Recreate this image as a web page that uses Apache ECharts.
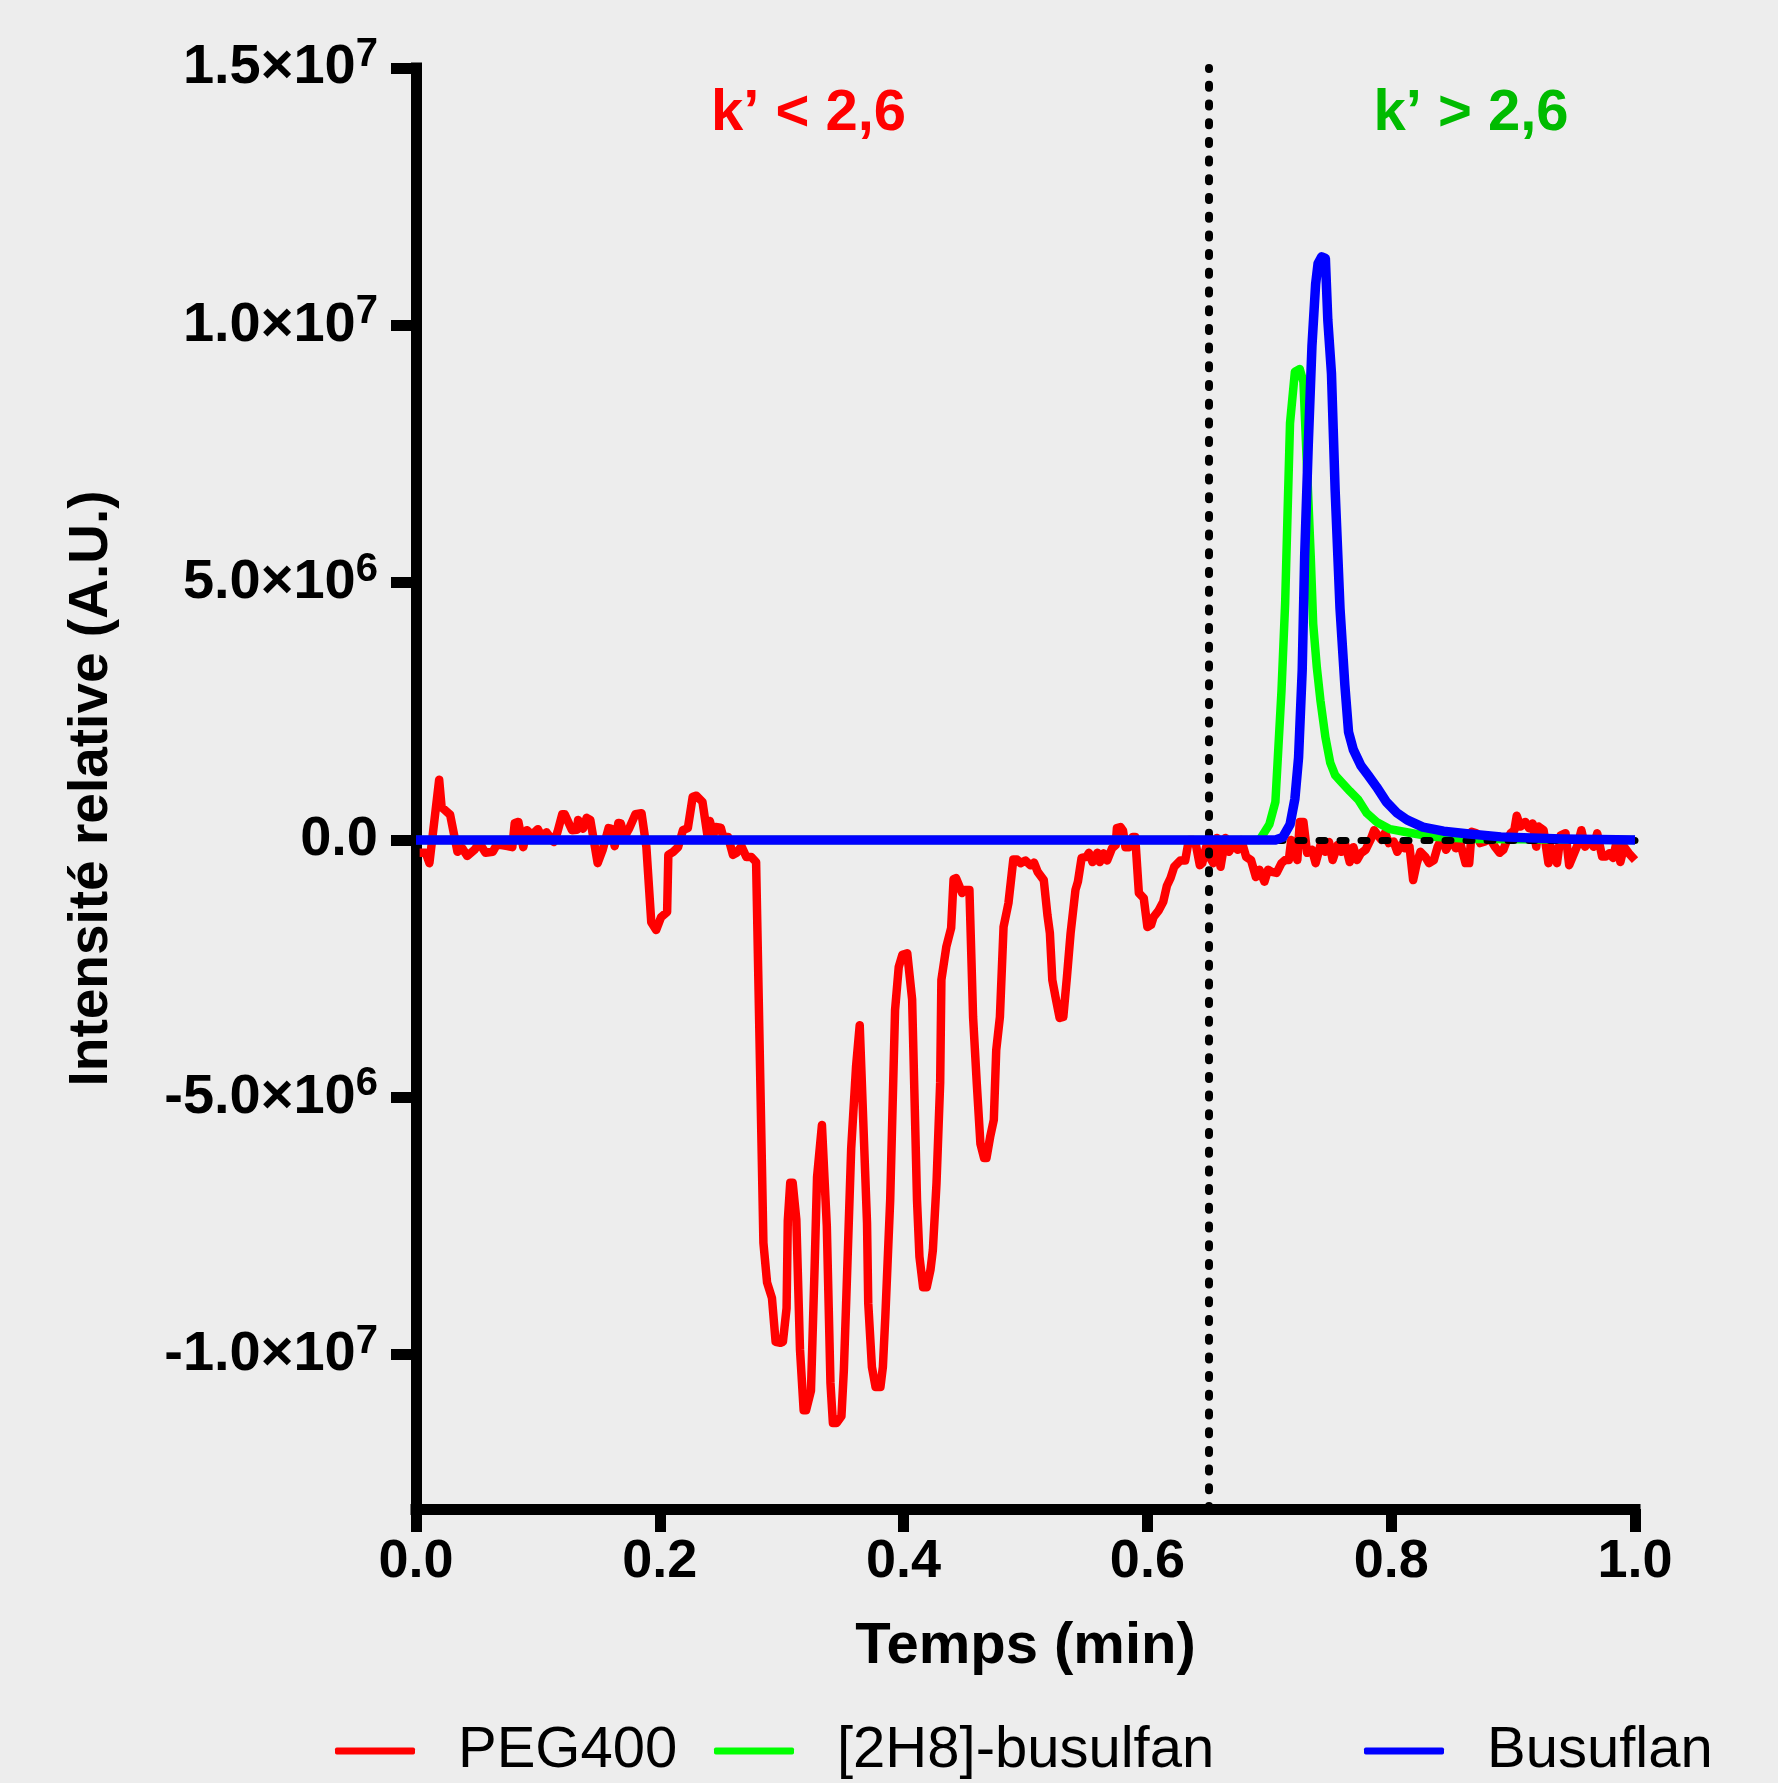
<!DOCTYPE html>
<html>
<head>
<meta charset="utf-8">
<script src="https://cdn.jsdelivr.net/npm/echarts@6/dist/echarts.min.js"></script>
<style>
html,body{margin:0;padding:0;background:#ededed;}
#chart{width:1778px;height:1783px;}
</style>
</head>
<body>
<div id="chart"></div>
<script>
// ---------- DATA ----------
const seriesNames = ['PEG400', '[2H8]-busulfan', 'Busuflan'];

const pegTime = [0.003,0.008,0.011,0.019,0.021,0.028,0.034,0.038,0.042,0.048,0.052,0.057,0.063,0.066,0.070,0.075,0.079,0.081,0.084,0.088,0.091,0.095,0.100,0.104,0.107,0.113,0.116,0.120,0.122,0.128,0.132,0.133,0.137,0.140,0.143,0.149,0.153,0.158,0.160,0.163,0.166,0.168,0.171,0.175,0.180,0.185,0.189,0.193,0.197,0.201,0.206,0.207,0.211,0.215,0.219,0.223,0.227,0.230,0.235,0.239,0.241,0.244,0.246,0.250,0.252,0.256,0.260,0.263,0.267,0.271,0.275,0.279,0.285,0.288,0.292,0.295,0.299,0.301,0.304,0.305,0.307,0.309,0.312,0.315,0.318,0.320,0.324,0.327,0.329,0.333,0.337,0.340,0.342,0.345,0.349,0.351,0.353,0.357,0.361,0.364,0.370,0.371,0.374,0.377,0.381,0.383,0.385,0.389,0.393,0.396,0.399,0.403,0.407,0.411,0.413,0.416,0.419,0.422,0.424,0.427,0.430,0.431,0.435,0.439,0.441,0.443,0.448,0.450,0.454,0.457,0.460,0.463,0.466,0.468,0.471,0.474,0.476,0.479,0.482,0.486,0.490,0.493,0.496,0.500,0.504,0.507,0.510,0.515,0.518,0.520,0.522,0.525,0.528,0.531,0.534,0.537,0.541,0.543,0.546,0.550,0.552,0.555,0.559,0.561,0.564,0.567,0.571,0.574,0.575,0.578,0.580,0.582,0.585,0.588,0.590,0.593,0.597,0.600,0.603,0.605,0.609,0.613,0.616,0.619,0.622,0.627,0.631,0.634,0.638,0.640,0.643,0.645,0.649,0.651,0.654,0.657,0.660,0.664,0.667,0.670,0.674,0.677,0.681,0.685,0.689,0.692,0.696,0.699,0.702,0.706,0.710,0.713,0.716,0.718,0.723,0.725,0.728,0.731,0.735,0.738,0.742,0.746,0.749,0.752,0.756,0.759,0.762,0.766,0.769,0.772,0.775,0.779,0.783,0.786,0.789,0.792,0.795,0.798,0.802,0.805,0.808,0.811,0.815,0.818,0.821,0.824,0.828,0.831,0.835,0.838,0.842,0.845,0.850,0.853,0.856,0.861,0.864,0.866,0.870,0.873,0.877,0.881,0.885,0.889,0.892,0.895,0.898,0.901,0.903,0.906,0.910,0.913,0.916,0.919,0.921,0.925,0.929,0.931,0.936,0.939,0.943,0.946,0.949,0.953,0.956,0.959,0.963,0.966,0.969,0.973,0.976,0.979,0.982,0.985,0.988,0.991,0.995,1.000];
const pegValues = [-2.5e5,-2.5e5,-4.5e5,1.17e6,6.4e5,4.9e5,-2.3e5,-1.6e5,-3.1e5,-1.9e5,-0.6e5,-2.5e5,-2.3e5,-1.0e5,-1.0e5,-1.2e5,-1.4e5,3.3e5,3.5e5,-1.4e5,1.9e5,1.0e5,2.1e5,0.3e5,1.5e5,-0.4e5,1.5e5,5.0e5,5.0e5,1.9e5,2.0e5,3.9e5,2.2e5,4.3e5,3.9e5,-4.5e5,-2.0e5,2.3e5,2.2e5,-1.2e5,3.3e5,3.2e5,0.6e5,2.3e5,5.0e5,5.2e5,-1.4e5,-1.6e6,-1.75e6,-1.5e6,-1.4e6,-2.9e5,-2.3e5,-1.4e5,1.9e5,2.3e5,8.4e5,8.6e5,7.4e5,1.0e5,3.7e5,1.0e5,2.5e5,2.4e5,0.6e5,0.6e5,-2.9e5,-2.5e5,-1.2e5,-3.3e5,-3.3e5,-4.3e5,-7.83e6,-8.6e6,-8.9e6,-9.75e6,-9.77e6,-9.75e6,-9.1e6,-7.4e6,-6.66e6,-6.66e6,-7.38e6,-9.9e6,-1.108e7,-1.108e7,-1.07e7,-8.3e6,-6.55e6,-5.54e6,-7.5e6,-1.055e7,-1.133e7,-1.133e7,-1.12e7,-1.03e7,-8.9e6,-6.0e6,-4.4e6,-3.6e6,-7.45e6,-9.0e6,-1.024e7,-1.063e7,-1.063e7,-1.024e7,-9.27e6,-7.0e6,-3.3e6,-2.47e6,-2.23e6,-2.2e6,-3.1e6,-7.0e6,-8.1e6,-8.69e6,-8.69e6,-8.36e6,-7.97e6,-6.67e6,-4.72e6,-2.72e6,-2.08e6,-1.71e6,-7.6e5,-7.4e5,-1.03e6,-9.7e5,-9.7e5,-3.44e6,-4.72e6,-5.9e6,-6.18e6,-6.18e6,-5.77e6,-5.44e6,-4.08e6,-3.44e6,-1.69e6,-1.23e6,-3.8e5,-3.8e5,-4.5e5,-4.0e5,-4.9e5,-4.4e5,-6.2e5,-7.8e5,-1.46e6,-1.81e6,-2.72e6,-3.1e6,-3.46e6,-3.44e6,-2.66e6,-1.81e6,-9.7e5,-8.1e5,-3.5e5,-3.3e5,-2.5e5,-4.3e5,-2.5e5,-4.3e5,-2.6e5,-4.0e5,-1.6e5,-1.0e5,2.3e5,2.5e5,1.8e5,-1.4e5,-1.4e5,0.6e5,0.6e5,-1.03e6,-1.13e6,-1.69e6,-1.65e6,-1.5e6,-1.38e6,-1.2e6,-8.9e5,-7.4e5,-5.2e5,-4.0e5,-4.0e5,0,0,-1.2e5,-4.9e5,-4.5e5,-0.6e5,-3.3e5,-4.5e5,0.4e5,-5.2e5,0.4e5,-2.3e5,-1.0e5,-1.9e5,0,-3.3e5,-3.9e5,-7.2e5,-5.8e5,-8.1e5,-5.8e5,-6.2e5,-6.4e5,-4.5e5,-3.9e5,-3.9e5,0,-3.9e5,3.5e5,3.5e5,-2.5e5,-1.9e5,-4.5e5,-1.0e5,-2.3e5,-0.4e5,-3.9e5,-1.0e5,-2.3e5,-0.6e5,-4.3e5,-1.4e5,-3.9e5,-2.6e5,-1.9e5,0,1.9e5,0.9e5,0,1.4e5,-0.6e5,-0.3e5,-2.3e5,-1.0e5,-1.6e5,-1.3e5,-7.8e5,-4.5e5,-2.3e5,-3.3e5,-4.5e5,-3.9e5,-1.4e5,0.6e5,-1.9e5,0.3e5,-1.6e5,0,-4.5e5,-4.5e5,1.6e5,1.3e5,-0.6e5,-0.3e5,0.3e5,-1.3e5,-2.5e5,-1.9e5,0,1.3e5,1.9e5,4.7e5,2.6e5,3.5e5,2.3e5,3.2e5,-1.3e5,2.6e5,1.9e5,-4.5e5,-1.3e5,-4.5e5,0.9e5,1.3e5,-4.9e5,-3.2e5,-0.9e5,1.9e5,-1.3e5,0,-1.3e5,1.3e5,-3.2e5,-3.2e5,-2.6e5,-3.5e5,-0.3e5,-4.3e5,-1.3e5,-2.6e5,-3.9e5];

const d8Time = [0,0.692,0.700,0.705,0.707,0.710,0.713,0.715,0.717,0.721,0.725,0.728,0.731,0.734,0.736,0.739,0.742,0.746,0.750,0.754,0.759,0.766,0.773,0.780,0.788,0.799,0.815,0.834,0.868,1.0];
const d8Values = [0,0,3e5,7.4e5,1.6e6,2.9e6,4.6e6,6.37e6,8.1e6,9.1e6,9.15e6,8.9e6,7.2e6,5.5e6,4.2e6,3.35e6,2.7e6,2.0e6,1.5e6,1.26e6,1.13e6,9.5e5,7.8e5,5.2e5,3.5e5,2.1e5,1.4e5,6e4,2e4,0];

const busuTime = [0,0.705,0.711,0.717,0.721,0.724,0.727,0.729,0.732,0.735,0.738,0.740,0.743,0.746,0.748,0.751,0.754,0.758,0.762,0.765,0.769,0.775,0.781,0.788,0.796,0.805,0.813,0.826,0.843,0.862,0.890,0.940,1.0];
const busuValues = [0,0,0.5e5,3e5,8e5,1.6e6,3.3e6,5.5e6,7.7e6,9.6e6,1.08e7,1.12e7,1.133e7,1.13e7,1.01e7,9.06e6,6.8e6,4.5e6,3.0e6,2.1e6,1.75e6,1.45e6,1.26e6,1.03e6,7.4e5,5.2e5,3.9e5,2.5e5,1.7e5,1.2e5,6e4,2e4,0];

const xTicks = [0, 0.2, 0.4, 0.6, 0.8, 1.0];
const xTickLabels = ['0.0', '0.2', '0.4', '0.6', '0.8', '1.0'];
const yTicks = [-1e7, -5e6, 0, 5e6, 1e7, 1.5e7];
const yTickMantissa = ['-1.0×10', '-5.0×10', '0.0', '5.0×10', '1.0×10', '1.5×10'];
const yTickExponent = ['7', '6', '', '6', '7', '7'];

const splitTime = 0.65;
const annotTexts = ['k’ < 2,6', 'k’ > 2,6'];
const annotPos = [[0.322, 1.41e7], [0.8655, 1.41e7]];
const annotColors = ['#ff0000', '#00bb00'];
const seriesColors = ['#ff0000', '#00ff00', '#0000ff'];

// ---------- BUILD ----------
const zip = (t, v) => t.map((x, i) => [x, v[i]]);
const FONT = '"Liberation Sans", Arial, Helvetica, sans-serif';

const chart = echarts.init(document.getElementById('chart'), null, {renderer: 'canvas'});

const legendLefts = [330, 709, 1359];

const option = {
  backgroundColor: '#ededed',
  animation: false,
  textStyle: {fontFamily: FONT},
  grid: {left: 416, right: 143, top: 68, bottom: 274, outerBoundsMode: 'none'},
  legend: seriesNames.map((n, i) => ({
    data: [n],
    left: legendLefts[i],
    top: 1717,
    icon: 'roundRect',
    itemWidth: 80,
    itemHeight: 7,
    selectedMode: false,
    textStyle: {fontSize: 58, color: '#000', fontFamily: FONT, padding: [0, 0, 0, 38]}
  })),
  xAxis: {
    type: 'value',
    min: 0, max: 1, interval: 0.2,
    name: 'Temps (min)',
    nameLocation: 'middle',
    nameGap: 109,
    nameTextStyle: {fontSize: 58, fontWeight: 'bold', color: '#000', fontFamily: FONT},
    axisLine: {onZero: false, lineStyle: {color: '#000', width: 11, cap: 'square'}},
    axisTick: {show: true, inside: false, length: 23, lineStyle: {color: '#000', width: 11}},
    axisLabel: {
      margin: 26, fontSize: 54, fontWeight: 'bold', color: '#000', fontFamily: FONT,
      formatter: v => { const i = xTicks.findIndex(t => Math.abs(t - v) < 1e-9); return i >= 0 ? xTickLabels[i] : ''; }
    },
    splitLine: {show: false}
  },
  yAxis: {
    type: 'value',
    min: -1.3e7, max: 1.5e7,
    name: 'Intensité relative (A.U.)',
    nameLocation: 'middle',
    nameGap: 297,
    nameTextStyle: {fontSize: 55, fontWeight: 'bold', color: '#000', fontFamily: FONT},
    axisLine: {onZero: false, lineStyle: {color: '#000', width: 11, cap: 'square'}},
    axisTick: {show: true, inside: false, length: 25, customValues: yTicks, lineStyle: {color: '#000', width: 11}},
    axisLabel: {
      margin: 38, color: '#000', fontFamily: FONT,
      customValues: yTicks,
      formatter: v => {
        const i = yTicks.findIndex(t => Math.abs(t - v) < 1);
        if (i < 0) return '';
        return yTickExponent[i] ? '{m|' + yTickMantissa[i] + '}{s|' + yTickExponent[i] + '}' : '{m|' + yTickMantissa[i] + '}';
      },
      rich: {
        m: {fontSize: 56, fontWeight: 'bold', color: '#000', fontFamily: FONT, lineHeight: 66},
        s: {fontSize: 40, fontWeight: 'bold', color: '#000', fontFamily: FONT, lineHeight: 40, verticalAlign: 'top'}
      }
    },
    splitLine: {show: false}
  },
  series: [
    {
      name: seriesNames[0], type: 'line', data: zip(pegTime, pegValues),
      showSymbol: false, symbol: 'none', z: 2,
      lineStyle: {color: seriesColors[0], width: 8.5, join: 'round'}, itemStyle: {color: seriesColors[0]}
    },
    {
      name: 'zero', type: 'line', data: [], z: 3, silent: true,
      markLine: {
        silent: true, symbol: ['none', 'none'], label: {show: false},
        lineStyle: {color: '#000', width: 7, type: [6, 15], cap: 'round'},
        data: [{yAxis: 0}]
      }
    },
    {
      name: seriesNames[1], type: 'line', data: zip(d8Time, d8Values),
      showSymbol: false, symbol: 'none', z: 4,
      lineStyle: {color: seriesColors[1], width: 8.5, join: 'round'}, itemStyle: {color: seriesColors[1]}
    },
    {
      name: seriesNames[2], type: 'line', data: zip(busuTime, busuValues),
      showSymbol: false, symbol: 'none', z: 5,
      lineStyle: {color: seriesColors[2], width: 9.5, join: 'round'}, itemStyle: {color: seriesColors[2]}
    },
    {
      name: 'split', type: 'line', data: [], z: 6, silent: true,
      markLine: {
        silent: true, symbol: ['none', 'none'], label: {show: false},
        lineStyle: {color: '#000', width: 8, type: [3, 15.7], cap: 'round', opacity: 1},
        data: [{xAxis: splitTime}]
      }
    },
    {
      name: 'annotations', type: 'scatter', z: 7, silent: true,
      symbolSize: 1, itemStyle: {color: 'rgba(0,0,0,0)', opacity: 1},
      data: annotPos.map((p, i) => ({
        value: p, name: annotTexts[i],
        label: {show: true, position: 'inside', formatter: annotTexts[i], color: annotColors[i], opacity: 1,
          fontSize: 58, fontWeight: 'bold', fontFamily: FONT}
      }))
    }
  ]
};
chart.setOption(option);
</script>
</body>
</html>
